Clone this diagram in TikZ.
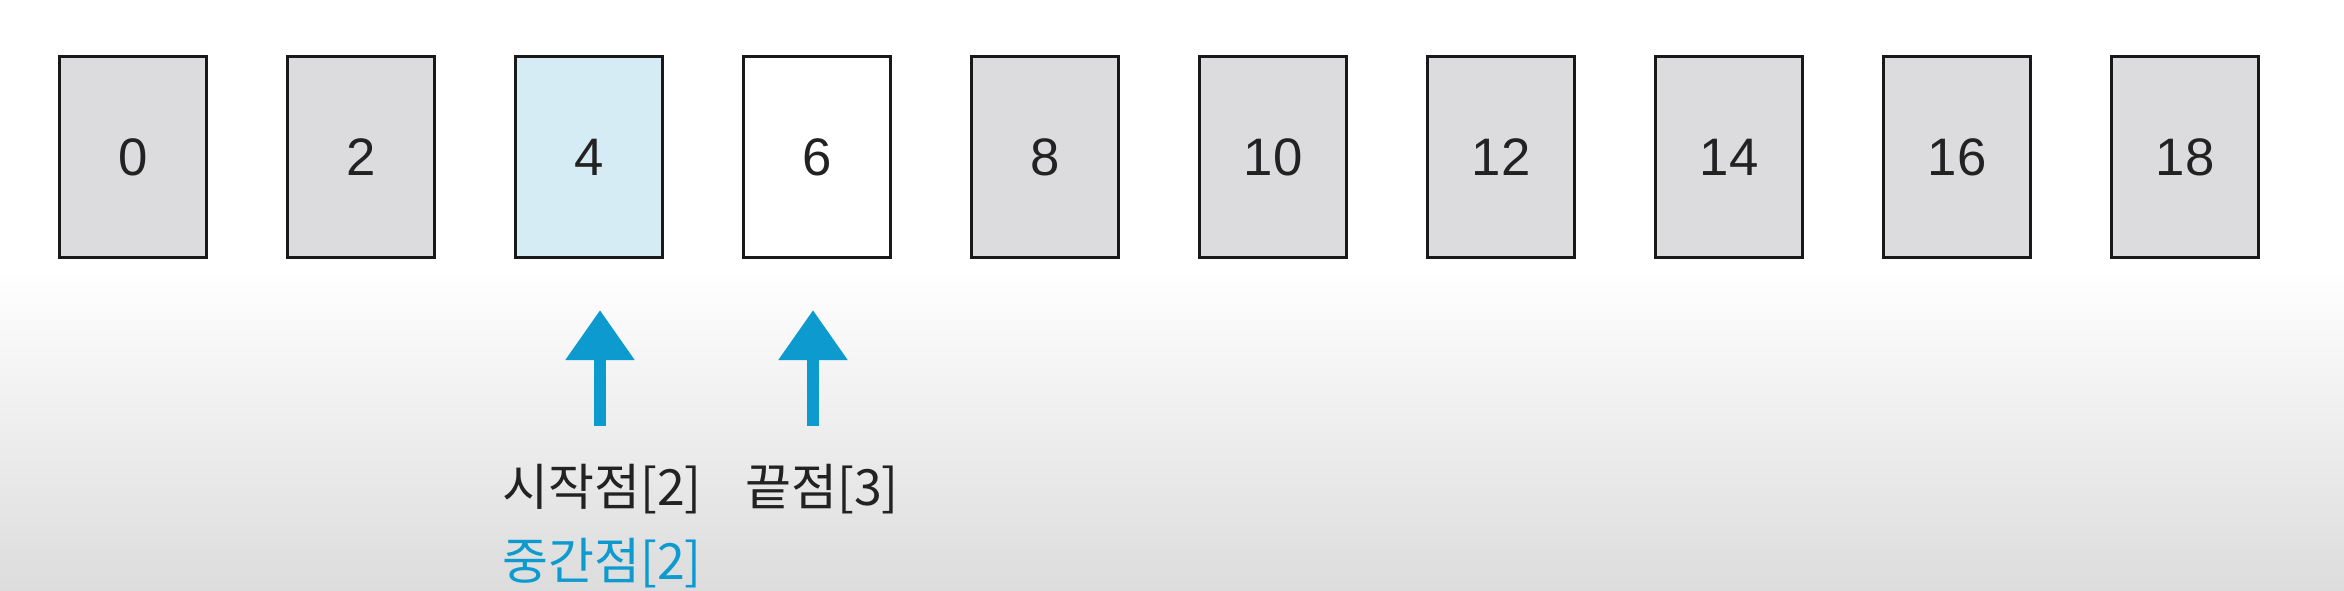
\documentclass[tikz,border=0pt]{standalone}
\usepackage{fontspec}
\setmainfont{Liberation Sans}
\newfontfamily\kofont{Noto Sans CJK KR}
\usetikzlibrary{arrows.meta}
\definecolor{boxgray}{HTML}{DCDCDE}
\definecolor{boxblue}{HTML}{D6ECF5}
\definecolor{arrblue}{HTML}{0D9BCF}
\definecolor{bggray}{HTML}{DCDCDC}
\definecolor{txtdark}{HTML}{222222}
\tikzset{
  cell/.style={draw=black!90, line width=0.85pt, minimum width=1.46cm, minimum height=2.0cm,
    inner sep=0pt, fill=boxgray, font=\fontsize{15}{15}\selectfont, text=txtdark},
  upar/.style={arrblue, line width=0.12cm, -{Triangle[width=0.66cm,length=0.5cm]}},
  lab/.style={font=\kofont\fontsize{14.2}{15}\selectfont, text=txtdark, inner sep=0pt},
}
\begin{document}
\begin{tikzpicture}[x=0.01cm,y=-0.01cm]
\useasboundingbox (0,0) rectangle (2344,591);
\fill[white] (0,0) rectangle (2344,591);
\shade[top color=white, bottom color=bggray] (0,270) rectangle (2344,591);
\foreach \i/\v in {0/0,1/2,2/4,3/6,4/8,5/10,6/12,7/14,8/16,9/18}{
  \node[cell] (b\i) at ({133+228*\i},157) {\v};
}
\node[cell, fill=boxblue] at (b2) {4};
\node[cell, fill=white] at (b3) {6};
\node[lab] (l1) at (602,489) {시작점[2]};
\node[lab] (l2) at (822,489) {끝점[3]};
\node[lab, text=arrblue] (l3) at (602,563) {중간점[2]};
\coordinate (t1) at (600,426);
\coordinate (h1) at (600,310);
\coordinate (t2) at (813,426);
\coordinate (h2) at (813,310);
\draw[upar] (t1) -- (h1);
\draw[upar] (t2) -- (h2);
\end{tikzpicture}
\end{document}
